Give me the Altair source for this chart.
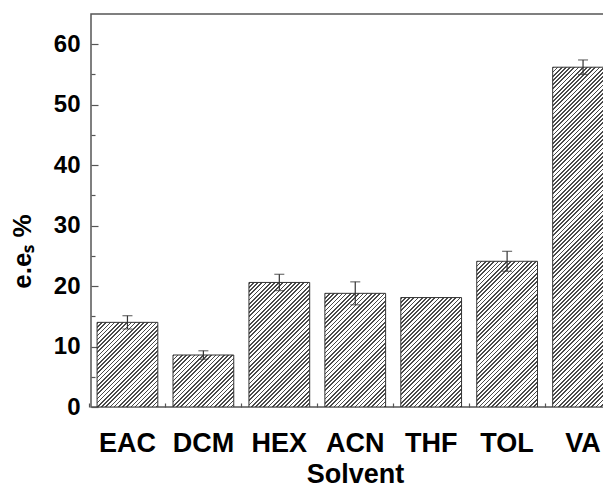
import altair as alt
import pandas as pd

# ---- data ----
solvents = ["EAC", "DCM", "HEX", "ACN", "THF", "TOL", "VA"]
ee_values = [14.0, 8.6, 20.6, 18.8, 18.1, 24.1, 56.2]
ee_errors = [1.1, 0.7, 1.35, 1.9, 0.0, 1.65, 1.2]
y_major_ticks = [0, 10, 20, 30, 40, 50, 60]
y_minor_ticks = [5, 15, 25, 35, 45, 55]

df = pd.DataFrame({"solvent": solvents, "ee": ee_values, "err": ee_errors})

# ---- layout constants ----
PLOT_W = 521
PLOT_H = 393
Y_MAX = 65
RANGE_W = 528.5
P_IN, P_OUT = 0.2, 0.08
STEP = RANGE_W / (len(solvents) - P_IN + 2 * P_OUT)
BW = STEP * (1 - P_IN)
PPU = PLOT_H / Y_MAX
FONT = "Liberation Sans"

# ---- hatch pattern as a hard-stop linear gradient ----
DARK, LIGHT = "#4a4a4a", "#ffffff"
L = 470.0
PERIOD = 4.2
DARK_FRAC = 0.42
stops = []
n = int(L / PERIOD) + 1
for i in range(n):
    t0 = min(i * PERIOD / L, 1.0)
    t1 = min((i + DARK_FRAC) * PERIOD / L, 1.0)
    t2 = min((i + 1) * PERIOD / L, 1.0)
    stops += [
        {"offset": t0, "color": DARK},
        {"offset": t1, "color": DARK},
        {"offset": t1, "color": LIGHT},
        {"offset": t2, "color": LIGHT},
    ]
hatch = alt.param(name="hatch", value=stops)

hpx = f"(datum.ee*{PPU})"
den = f"({BW}*{BW} + {hpx}*{hpx})"
grad_expr = (
    "{gradient: 'linear', x1: 0, y1: 0, "
    f"x2: {L}*{BW}/{den}, y2: {L}*{hpx}/{den}, stops: hatch}}"
)

xscale = alt.Scale(domain=solvents, range=[0, RANGE_W], paddingInner=P_IN, paddingOuter=P_OUT)
yscale = alt.Scale(domain=[0, Y_MAX], nice=False)

x_main = alt.X(
    "solvent:N", sort=None, scale=xscale,
    axis=alt.Axis(
        title="Solvent", orient="bottom", labelAngle=0,
        labelFont=FONT, labelFontSize=27, labelFontWeight="bold", labelColor="black",
        labelPadding=23, tickSize=4, offset=-4, domain=False, grid=False,
        tickColor="#555", tickWidth=1.2,
        titleFont=FONT, titleFontSize=27, titleFontWeight="bold", titleColor="black",
        titlePadding=5, titleX=264,
    ),
)
y_main = alt.Y(
    "ee:Q", scale=yscale,
    axis=alt.Axis(
        values=y_major_ticks, orient="left",
        labelFont=FONT, labelFontSize=24, labelFontWeight="bold", labelColor="black",
        labelPadding=11, tickSize=7, offset=-7, domain=False, grid=False,
        tickColor="#555", tickWidth=1.2,
        title="e.eₛ %", titleFont=FONT, titleFontSize=26, titleFontWeight="bold",
        titleColor="black", titleAngle=-90, titleBaseline="middle", titleAlign="center",
        titleX=-76, titleY=237,
    ),
)

bars = (
    alt.Chart(df)
    .transform_calculate(grad=grad_expr)
    .mark_bar(stroke="#333", strokeWidth=1, clip=True)
    .encode(x=x_main, y=y_main, fill=alt.Fill("grad:N", scale=None))
)

x_minor = alt.X(
    "solvent:N", sort=None, scale=xscale,
    axis=alt.Axis(
        orient="bottom", labels=False, title="", bandPosition=-0.125,
        tickSize=4, offset=-4, domain=False, grid=False, tickColor="#555", tickWidth=1.2,
    ),
)
y_minor = alt.Y(
    "lo:Q", scale=yscale,
    axis=alt.Axis(
        orient="left", values=y_minor_ticks, labels=False, title="",
        tickSize=4, offset=-4, domain=False, grid=False, tickColor="#555", tickWidth=1.2,
    ),
)

errs = (
    alt.Chart(df)
    .transform_filter("datum.err > 0")
    .transform_calculate(lo="datum.ee - datum.err", hi="datum.ee + datum.err")
    .mark_errorbar(ticks=True, size=10, thickness=1.2, color="#333")
    .encode(x=x_minor, y=y_minor, y2="hi:Q")
)

chart = (
    alt.layer(bars, errs)
    .add_params(hatch)
    .resolve_axis(x="independent", y="independent")
    .properties(
        width=PLOT_W, height=PLOT_H,
        padding={"left": 83, "top": 6, "right": -9, "bottom": 80},
        autosize=alt.AutoSizeParams(type="none"),
        background="white",
    )
    .configure_view(stroke="#555", strokeWidth=1.5)
)

chart.save("out.html", embed_options={"renderer": "svg", "actions": False})
